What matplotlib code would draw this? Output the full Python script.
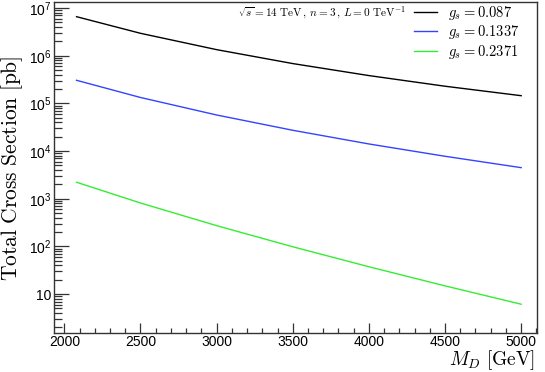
import numpy as np
import matplotlib
matplotlib.use('Agg')
import matplotlib.pyplot as plt
from matplotlib.ticker import MultipleLocator, LogLocator, NullFormatter

plt.rcParams['mathtext.fontset'] = 'cm'
plt.rcParams['font.family'] = ['Liberation Sans', 'DejaVu Sans']

# data
md = [2080, 2500, 3000, 3500, 4000, 4500, 5000]
xs_g0087 = [6.58e6, 2.95e6, 1.34e6, 6.84e5, 3.83e5, 2.29e5, 1.45e5]
xs_g01337 = [3.05e5, 1.33e5, 5.71e4, 2.73e4, 1.41e4, 7.78e3, 4.49e3]
xs_g02371 = [2.22e3, 815, 273, 98.4, 37.5, 14.9, 6.14]
labels = [r'$g_s = 0.087$', r'$g_s = 0.1337$', r'$g_s = 0.2371$']
colors = ['black', '#3344ff', '#33ee33']
header = r'$\sqrt{s} = 14\ \mathrm{TeV}\,,\, n = 3\,,\, L = 0\ \mathrm{TeV}^{-1}$'

fig = plt.figure(figsize=(5.45, 3.72), dpi=100)
ax = fig.add_axes([54 / 545, 1 - 333 / 372, (537 - 54) / 545, (333 - 1.5) / 372])

for ys, lab, c in zip([xs_g0087, xs_g01337, xs_g02371], labels, colors):
    ax.plot(md, ys, color=c, linewidth=1.0, label=lab)

ax.set_yscale('log')
ax.set_xlim(1932, 5104)
ax.set_ylim(1.53, 1.37e7)

# ROOT-like ticks
ax.xaxis.set_major_locator(MultipleLocator(500))
ax.xaxis.set_minor_locator(MultipleLocator(100))
ax.yaxis.set_minor_locator(LogLocator(base=10, subs=np.arange(2, 10), numticks=20))
ax.yaxis.set_minor_formatter(NullFormatter())
ax.tick_params(axis='both', which='both', direction='in', top=False, right=False,
               labelsize=10, color='#333333', width=0.9)
ax.tick_params(axis='y', which='major', length=11)
ax.tick_params(axis='y', which='minor', length=5.5)
ax.tick_params(axis='x', which='major', length=7.5)
ax.tick_params(axis='x', which='minor', length=3.8)
ax.tick_params(axis='x', pad=1.5)
ax.tick_params(axis='y', pad=2)

ytick_vals = [10, 1e2, 1e3, 1e4, 1e5, 1e6, 1e7]
ytick_labels = ['10', r'$\mathdefault{10^{2}}$', r'$\mathdefault{10^{3}}$', r'$\mathdefault{10^{4}}$',
                r'$\mathdefault{10^{5}}$', r'$\mathdefault{10^{6}}$', r'$\mathdefault{10^{7}}$']
ax.set_yticks(ytick_vals)
ax.set_yticklabels(ytick_labels)
xt = [2000, 2500, 3000, 3500, 4000, 4500, 5000]
ax.set_xticks(xt)
ax.set_xticklabels([str(v) for v in xt])

for s in ax.spines.values():
    s.set_color('#333333')
    s.set_linewidth(1.0)

fig.text(12 / 545, 1 - 168 / 372, r'$\mathrm{Total\ Cross\ Section\ [pb]}$',
         rotation=90, ha='center', va='center', fontsize=15.5)
fig.text(535 / 545, 1 - 360 / 372, r'$M_D\ \mathrm{[GeV]}$',
         ha='right', va='center', fontsize=14)

fig.text(238 / 545, 1 - 13 / 372, header, ha='left', va='center', fontsize=8.1)
ax.legend(loc='upper left', bbox_to_anchor=(414 / 545, 1 - 4 / 372),
          bbox_transform=fig.transFigure, frameon=False, fontsize=10.5,
          handlelength=1.6, handletextpad=0.7, labelspacing=0.1,
          borderpad=0, borderaxespad=0)

fig.savefig('out.png', dpi=100)
